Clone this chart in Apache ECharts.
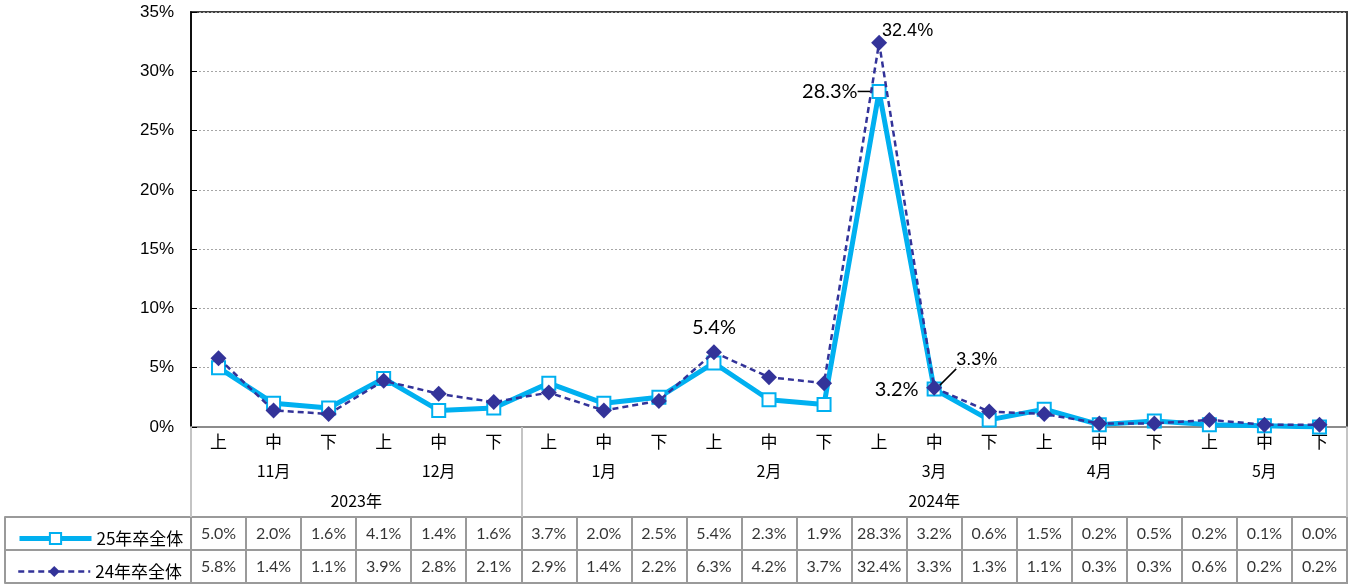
<!DOCTYPE html>
<html>
<head>
<meta charset="utf-8">
<script src="https://cdn.jsdelivr.net/npm/echarts@6/dist/echarts.min.js"></script>
<style>
html,body{margin:0;padding:0;background:#fff;}
#chart{width:1354px;height:584px;}
</style>
</head>
<body>
<div id="chart"></div>
<script>
// ---- data ----
const periods = ['上','中','下','上','中','下','上','中','下','上','中','下','上','中','下','上','中','下','上','中','下'];
const months = ['11月','12月','1月','2月','3月','4月','5月'];
const years = ['2023年','2024年'];
const yearSpans = [6, 15]; // periods per year
const rowNames = ['25年卒全体','24年卒全体'];
const grad25 = [5.0,2.0,1.6,4.1,1.4,1.6,3.7,2.0,2.5,5.4,2.3,1.9,28.3,3.2,0.6,1.5,0.2,0.5,0.2,0.1,0.0];
const grad24 = [5.8,1.4,1.1,3.9,2.8,2.1,2.9,1.4,2.2,6.3,4.2,3.7,32.4,3.3,1.3,1.1,0.3,0.3,0.6,0.2,0.2];
const yMin = 0, yMax = 35, yStep = 5;
const labeled25 = [9, 12, 13];
const labeled24 = [12, 13];
const leader25 = [12];
const leader24 = [13];

// ---- styles ----
const CJK = '"Noto Sans CJK JP", "Noto Sans", sans-serif';
const NUM = 'Lato, "Noto Sans", sans-serif';
const NARROW = '"Liberation Sans Narrow", "Arial Narrow", "Liberation Sans", sans-serif';
const GRID_GREY = '#9a9a9a';
const TICK_GREY = '#8c8c8c';
const LIGHT_GREY = '#c4c4c4';
const C25 = '#00B0F0';
const C24 = '#333399';

// year row: half-period slots
const nSlots = periods.length * 2;
const yearSlots = [];
for (let i = 0; i <= nSlots; i++) yearSlots.push(String(i));
const yearLabelAt = {};
const yearTickAt = [0];
let acc = 0;
years.forEach((y, k) => {
  yearLabelAt[acc * 2 + yearSpans[k]] = y;
  acc += yearSpans[k];
  yearTickAt.push(acc * 2);
});

const labelStyles25 = {
  9: {position: 'top', distance: 18, fontSize: 20, fontFamily: NUM},
  12: {position: 'left', distance: 4, offset: [0, 3], fontSize: 20, fontFamily: NUM},
  13: {position: 'left', distance: 8, offset: [0, 4], fontSize: 20, fontFamily: NUM}
};
const labelStyles24 = {
  12: {position: 'right', distance: -5, offset: [0, -12], fontSize: 18, fontFamily: NARROW},
  13: {position: 'right', distance: 14, offset: [0, -28], fontSize: 18, fontFamily: NARROW}
};
function buildLine(values, labeled, styles, leaders) {
  return values.map((v, i) => {
    if (labeled.indexOf(i) < 0) return v;
    return {
      value: v,
      label: Object.assign({show: true, color: '#000', formatter: (p) => p.value.toFixed(1) + '%'}, styles[i]),
      labelLine: {show: leaders.indexOf(i) >= 0, lineStyle: {color: '#000', width: 1.5}}
    };
  });
}

const tableData = [];
[grad25, grad24].forEach((arr, r) => arr.forEach((v, i) => tableData.push([i, r + 0.5, v])));

const legendBase = {
  orient: 'vertical', left: 12, itemWidth: 72, itemHeight: 14,
  textStyle: {fontSize: 17, fontFamily: CJK, color: '#000'}
};

const chart = echarts.init(document.getElementById('chart'));
chart.setOption({
  animation: false,
  backgroundColor: '#fff',
  grid: [
    {left: 191, right: 7, top: 12, height: 415, show: true, borderColor: '#404040', borderWidth: 2},
    {left: 191, right: 7, top: 517, height: 66, show: true, borderColor: GRID_GREY, borderWidth: 2}
  ],
  legend: [
    Object.assign({data: [rowNames[0]], top: 525, lineStyle: {width: 5}}, legendBase),
    Object.assign({data: [rowNames[1]], top: 558, lineStyle: {width: 2.5, type: [6, 4]}}, legendBase)
  ],
  xAxis: [
    {
      gridIndex: 0, type: 'category', data: periods, boundaryGap: true,
      axisLine: {lineStyle: {color: TICK_GREY, width: 2}},
      axisTick: {interval: 0, length: 30, lineStyle: {color: TICK_GREY, width: 3}},
      axisLabel: {interval: 0, margin: 6, fontSize: 17, color: '#000', fontFamily: CJK}
    },
    {
      gridIndex: 0, type: 'category', data: months, position: 'bottom', boundaryGap: true,
      axisLine: {show: false},
      axisTick: {interval: 0, length: 60, lineStyle: {color: LIGHT_GREY, width: 2}},
      axisLabel: {interval: 0, margin: 36, fontSize: 16, color: '#000', fontFamily: CJK}
    },
    {
      gridIndex: 0, type: 'category', data: yearSlots, position: 'bottom', boundaryGap: false,
      axisLine: {show: false},
      axisTick: {interval: (i) => yearTickAt.indexOf(i) >= 0, length: 90, lineStyle: {color: LIGHT_GREY, width: 2}},
      axisLabel: {interval: 0, margin: 66, fontSize: 16, color: '#000', fontFamily: CJK,
        formatter: (v, i) => yearLabelAt[i] || ''}
    },
    {
      gridIndex: 1, type: 'category', data: periods, boundaryGap: true,
      axisLine: {show: false}, axisTick: {show: false}, axisLabel: {show: false},
      splitLine: {show: true, interval: 0, lineStyle: {color: GRID_GREY, width: 2}}
    }
  ],
  yAxis: [
    {
      gridIndex: 0, type: 'value', min: yMin, max: yMax, interval: yStep,
      axisLine: {show: true, lineStyle: {color: '#000', width: 1.5}},
      axisTick: {show: true, inside: true, length: 6, lineStyle: {color: '#000'}},
      axisLabel: {formatter: '{value}%', fontSize: 17, fontFamily: NARROW, color: '#000', margin: 17},
      splitLine: {show: true, lineStyle: {color: '#a6a6a6', width: 1, type: [2, 2]}}
    },
    {
      gridIndex: 1, type: 'value', min: 0, max: rowNames.length, interval: 1, inverse: true, position: 'left',
      axisLine: {show: true, lineStyle: {color: GRID_GREY, width: 2}},
      axisTick: {show: true, length: 186, lineStyle: {color: GRID_GREY, width: 2}},
      axisLabel: {show: false},
      splitLine: {show: true, lineStyle: {color: GRID_GREY, width: 2}}
    },
    {
      gridIndex: 1, type: 'value', min: 0, max: rowNames.length, interval: 1, inverse: true,
      position: 'left', offset: 186,
      axisLine: {show: true, lineStyle: {color: GRID_GREY, width: 2}},
      axisTick: {show: false}, axisLabel: {show: false}, splitLine: {show: false}
    }
  ],
  series: [
    {
      name: rowNames[0], type: 'line', xAxisIndex: 0, yAxisIndex: 0, z: 3,
      data: buildLine(grad25, labeled25, labelStyles25, leader25),
      symbol: 'rect', symbolSize: 13,
      lineStyle: {color: C25, width: 5},
      itemStyle: {color: '#fff', borderColor: C25, borderWidth: 2},
      labelLayout: (p) => (p.dataIndex === 12 ? {dx: -10} : {})
    },
    {
      name: rowNames[1], type: 'line', xAxisIndex: 0, yAxisIndex: 0, z: 4,
      data: buildLine(grad24, labeled24, labelStyles24, leader24),
      symbol: 'diamond', symbolSize: 16,
      lineStyle: {color: C24, width: 2.5, type: [6, 4]},
      itemStyle: {color: C24}
    },
    {
      type: 'scatter', xAxisIndex: 3, yAxisIndex: 1, silent: true,
      data: tableData, symbolSize: 1,
      itemStyle: {color: 'rgba(0,0,0,0)'},
      label: {show: true, position: 'inside', color: '#000', fontSize: 16, fontFamily: NUM,
        formatter: (p) => p.value[2].toFixed(1) + '%'}
    }
  ]
});
</script>
</body>
</html>
